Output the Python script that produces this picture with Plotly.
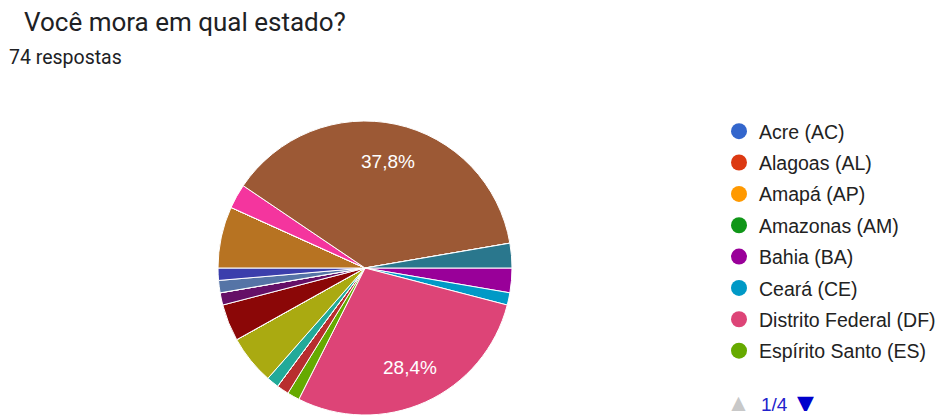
import math
import plotly.graph_objects as go

states = ["Acre (AC)", "Alagoas (AL)", "Amapá (AP)", "Amazonas (AM)", "Bahia (BA)", "Ceará (CE)",
          "Distrito Federal (DF)", "Espírito Santo (ES)", "Goiás (GO)", "Maranhão (MA)",
          "Mato Grosso (MT)", "Mato Grosso do Sul (MS)", "Minas Gerais (MG)", "Pará (PA)",
          "Paraíba (PB)", "Paraná (PR)", "Pernambuco (PE)", "Piauí (PI)", "Rio de Janeiro (RJ)",
          "Rio Grande do Norte (RN)", "Rio Grande do Sul (RS)", "Rondônia (RO)", "Roraima (RR)",
          "Santa Catarina (SC)", "São Paulo (SP)", "Sergipe (SE)", "Tocantins (TO)"]
counts = [0, 0, 0, 0, 2, 1, 21, 1, 1, 0, 0, 1, 4, 0, 0, 3, 1, 0, 1, 1, 5, 0, 0, 2, 28, 0, 2]
colors = ["#3366cc", "#dc3912", "#ff9900", "#109618", "#990099", "#0099c6", "#dd4477", "#66aa00",
          "#b82e2e", "#316395", "#994499", "#22aa99", "#aaaa11", "#6633cc", "#e67300", "#8b0707",
          "#651067", "#329262", "#5574a6", "#3b3eac", "#b77322", "#16d620", "#b91383", "#f4359e",
          "#9c5935", "#a9c413", "#2a778d"]
title = "Você mora em qual estado?"
subtitle = "74 respostas"
page_label = "1/4"
legend_page_size = 8

total = sum(counts)
label_threshold = 0.1

W, H = 940, 415
cx, r = 365, 147
cy = H - r
start_angle = 90  # degrees clockwise from 12 o'clock

fig = go.Figure()
fig.add_trace(go.Pie(
    labels=states, values=counts, sort=False, direction="clockwise", rotation=start_angle,
    marker=dict(colors=colors, line=dict(color="white", width=1)),
    textinfo="none", showlegend=False, hoverinfo="label+value+percent",
    domain=dict(x=[(cx - r) / W, (cx + r) / W], y=[0, 2 * r / H]),
))

# percentage labels placed along each large slice's bisector (Google Charts style)
annotations = []
cum = 0
for c in counts:
    if c / total > label_threshold:
        mid = (cum + c / 2) / total
        theta = math.radians(start_angle - 90 + mid * 360)  # clockwise from 3 o'clock, screen coords
        d = 0.74 * r
        px = cx + d * math.cos(theta)
        py = cy + d * math.sin(theta)  # y downwards from top
        pct = f"{100 * c / total:.1f}".replace(".", ",") + "%"
        annotations.append(dict(x=px / W, y=1 - py / H, xref="paper", yref="paper",
                                xanchor="center", yanchor="middle", text=pct, showarrow=False,
                                font=dict(size=19, family="Liberation Sans, Arial", color="white")))
    cum += c

for i in range(legend_page_size):
    fig.add_trace(go.Scatter(
        x=[None], y=[None], mode="markers", name=states[i], legendgroup=str(i),
        marker=dict(size=16, color=colors[i], symbol="circle"), showlegend=True,
    ))

annotations += [
    dict(x=22 / W, y=1 - 22 / H, xref="paper", yref="paper", xanchor="left", yanchor="middle",
         text=title, showarrow=False,
         font=dict(size=26, family="Roboto, Arial", color="#202124")),
    dict(x=7 / W, y=1 - 58 / H, xref="paper", yref="paper", xanchor="left", yanchor="middle",
         text=subtitle, showarrow=False,
         font=dict(size=19.5, family="Roboto, Arial", color="#202124")),
    dict(x=738 / W, y=1 - 403 / H, xref="paper", yref="paper", xanchor="center", yanchor="middle",
         text="▲", showarrow=False, height=16, valign="middle",
         font=dict(size=22, family="DejaVu Sans", color="#c8c8c8")),
    dict(x=759 / W, y=1 - 404 / H, xref="paper", yref="paper", xanchor="left", yanchor="middle",
         text=page_label, showarrow=False, height=18, valign="middle",
         font=dict(size=19, family="Liberation Sans, Arial", color="#2222cc")),
    dict(x=805 / W, y=1 - 403 / H, xref="paper", yref="paper", xanchor="center", yanchor="middle",
         text="▼", showarrow=False, height=16, valign="middle",
         font=dict(size=22, family="DejaVu Sans", color="#0000cc")),
]

fig.update_layout(
    width=W, height=H, margin=dict(l=0, r=0, t=0, b=0, autoexpand=False),
    paper_bgcolor="white", plot_bgcolor="white", separators=",.",
    xaxis=dict(visible=False), yaxis=dict(visible=False),
    legend=dict(x=719 / W, xanchor="left", y=1 - 112 / H, yanchor="top",
                font=dict(size=19.5, family="Liberation Sans, Arial", color="#222222"),
                tracegroupgap=3, bgcolor="rgba(0,0,0,0)", itemclick=False),
    annotations=annotations,
)

fig.write_html("out.html")
